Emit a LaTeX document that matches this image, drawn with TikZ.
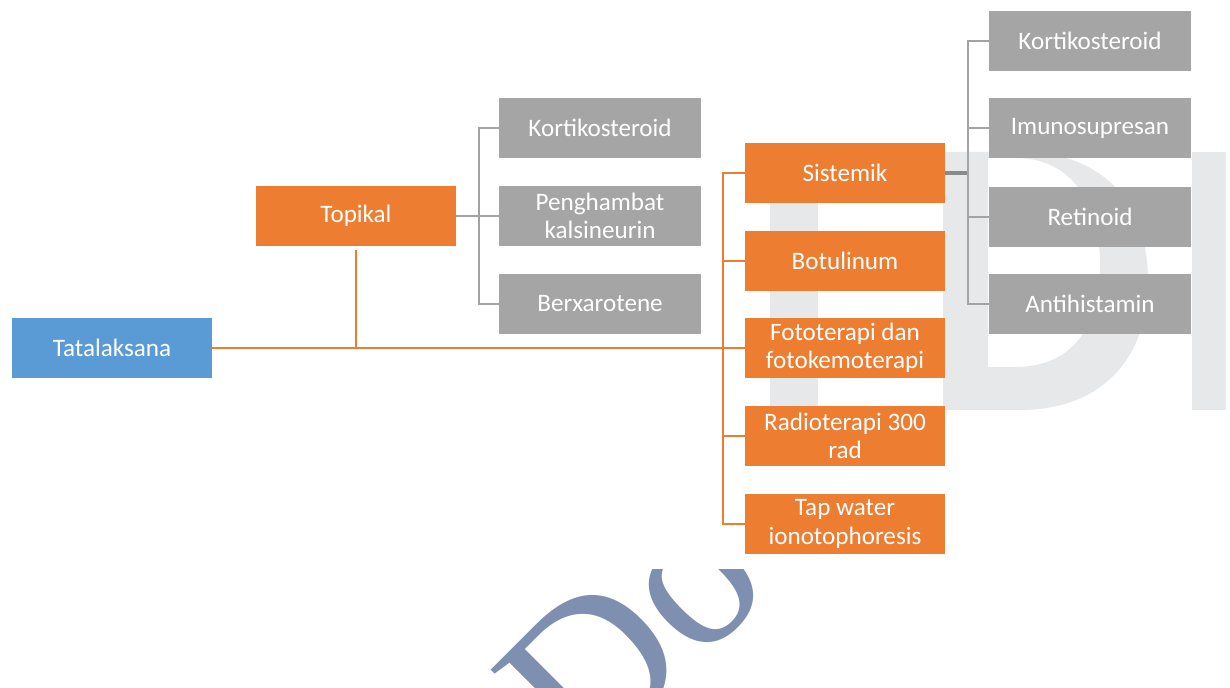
\documentclass[tikz,border=0pt]{standalone}
\usepackage{fontspec}
\setmainfont{Carlito}
\newfontfamily\wmfont{Liberation Serif}
\definecolor{tblue}{HTML}{5B9BD5}
\definecolor{torange}{HTML}{ED7D31}
\definecolor{tgrey}{HTML}{A5A5A5}
\definecolor{tline}{HTML}{A3A3A3}
\definecolor{wmgrey}{HTML}{E7E8EA}
\definecolor{wmblue}{HTML}{7F8FB0}

\begin{document}
\begin{tikzpicture}[x=0.02cm,y=-0.02cm,
    box/.style={minimum width=4cm,minimum height=1.2cm,inner sep=1pt,text=white,align=center,
      font=\fontsize{14.3}{16}\selectfont},
    bluebox/.style={box,fill=tblue},
    orangebox/.style={box,fill=torange},
    greybox/.style={box,fill=tgrey,minimum width=4.04cm},
    oline/.style={torange,line width=1.2pt},
    gline/.style={tline,line width=1.2pt}]
  \useasboundingbox (0,0) rectangle (1230,688);

  % watermark behind the chart
  \fill[wmgrey] (770,152) rectangle (818,410);
  \fill[wmgrey,even odd rule] (943,152) -- (1020,152) .. controls (1110,152) and (1148,210) .. (1148,281)
    .. controls (1148,360) and (1100,410) .. (1020,410) -- (943,410) -- cycle
    (988,158) -- (1015,158) .. controls (1080,158) and (1100,215) .. (1100,265)
    .. controls (1100,330) and (1070,367) .. (1015,367) -- (988,367) -- cycle;
  \fill[wmgrey] (1192,152) rectangle (1226,410);
  \begin{scope}
    \clip (0,570) rectangle (1230,688);
    \node[rotate=45,anchor=base west,inner sep=0,text=wmblue,font=\wmfont\fontsize{124}{124}\selectfont] (wm) at (587,776) {Do};
  \end{scope}

  \node[bluebox] (tata) at (112,348) {Tatalaksana};
  \node[orangebox] (topikal) at (356,216) {Topikal};

  \node[greybox] (tk) at (600,128) {Kortikosteroid};
  \node[greybox] (tp) at (600,216) {Penghambat\\kalsineurin};
  \node[greybox] (tb) at (600,304) {Berxarotene};

  \node[orangebox] (sis) at (845,173) {Sistemik};
  \node[orangebox] (bot) at (845,261) {Botulinum};
  \node[orangebox] (foto) at (845,348) {Fototerapi dan\\fotokemoterapi};
  \node[orangebox] (radio) at (845,436) {Radioterapi 300\\rad};
  \node[orangebox] (tap) at (845,524) {Tap water\\ionotophoresis};

  \node[greybox] (sk) at (1090,41) {Kortikosteroid};
  \node[greybox] (si) at (1090,128) {Imunosupresan};
  \node[greybox] (sr) at (1090,217) {Retinoid};
  \node[greybox] (sa) at (1090,304) {Antihistamin};

  \draw[oline] (tata.east) -- (foto.west);
  \draw[oline] ([yshift=-2]topikal.south) -- (topikal.south |- tata.east);
  \draw[oline] (sis.west) -- ++(-22,0) |- (tap.west);
  \draw[oline] (bot.west) -- ++(-22,0);
  \draw[oline] (radio.west) -- ++(-22,0);

  \draw[gline] (tk.west) -- ++(-20,0) |- (tb.west);
  \draw[gline] (topikal.east) -- (tp.west);

  \draw[gline] (sk.west) -- ++(-21,0) |- (sa.west);
  \draw[gline] (si.west) -- ++(-21,0);
  \draw[gline] (sr.west) -- ++(-21,0);
  \draw[tline!85!black,line width=1.8pt] (sis.east) -- ++(22,0);
\end{tikzpicture}
\end{document}
